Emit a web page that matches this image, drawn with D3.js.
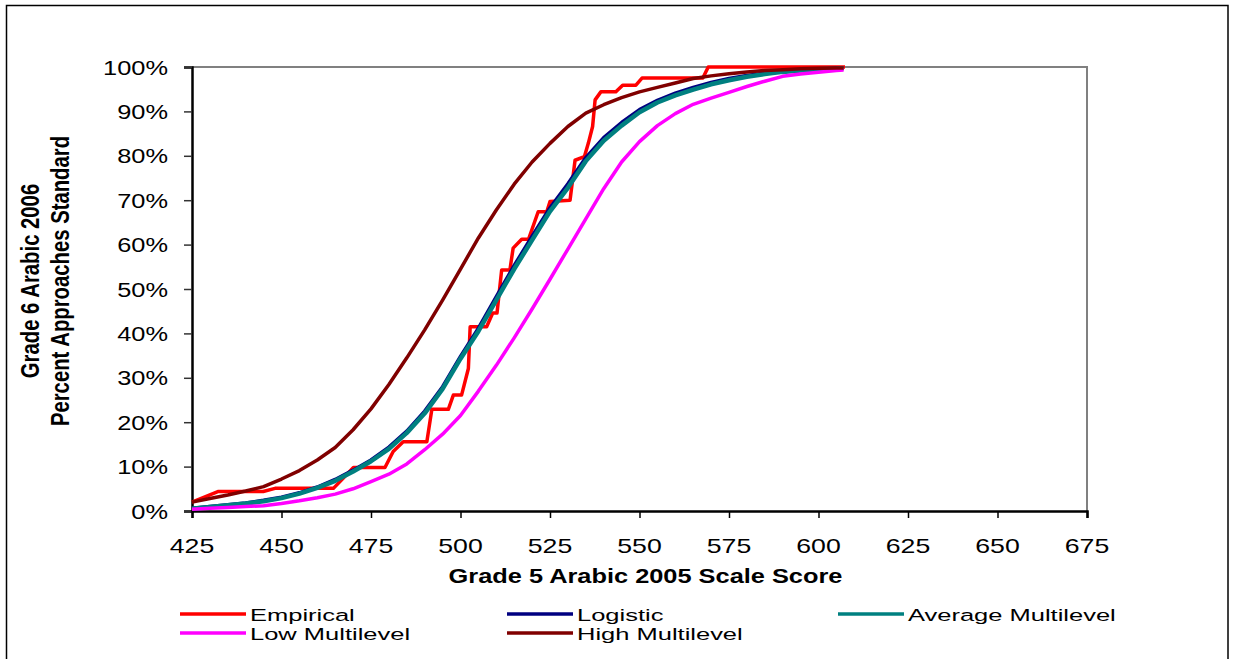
<!DOCTYPE html>
<html><head><meta charset="utf-8">
<script src="https://cdn.jsdelivr.net/npm/d3@7/dist/d3.min.js"></script>
<style>body{margin:0;background:#fff}svg{display:block}text{font-family:Arial,"Liberation Sans",sans-serif;fill:#000}</style>
</head><body><svg id="c" width="1233" height="659"></svg>
<script>
const xTicks = [425,450,475,500,525,550,575,600,625,650,675];
const yTicks = [0,10,20,30,40,50,60,70,80,90,100];
const seriesNames = ["Empirical","Logistic","Average Multilevel","Low Multilevel","High Multilevel"];
const seriesColors = ["#FF0000","#000080","#008080","#FF00FF","#800000"];

const empiricalX = [425,432.4,444.9,448.2,464.5,470.1,478.9,481.2,484,490.6,492,496.6,498,500.3,502.2,502.7,505,507.3,509,510.2,511.5,513.8,514.7,517.1,519,521.7,524.1,525,530.6,532,534.6,535.7,536.9,537.6,539.2,543.4,545.3,549,550.7,567.7,569.2,607.4];
const empiricalY = [2.0,4.4,4.4,5.1,5.1,9.8,9.8,13.4,15.6,15.6,22.9,22.9,26.1,26.1,32.1,41.5,41.5,41.5,44.6,44.6,54.3,54.3,59.2,61.2,61.2,67.4,67.4,69.7,70.0,79.0,79.8,82.8,86.6,92.6,94.4,94.4,95.9,95.9,97.5,97.5,100,100];

const scores = [425,430,435,440,445,450,455,460,465,470,475,480,485,490,495,500,505,510,515,520,525,530,535,540,545,550,555,560,565,570,575,580,585,590,595,600,605,607];
const logistic = [0.6,1.0,1.4,1.8,2.4,3.1,4.1,5.4,7.1,9.2,11.5,14.4,18.0,22.5,28.0,34.8,41.2,48.3,55.3,61.9,68.3,73.7,79.6,84.1,87.5,90.4,92.5,94.1,95.4,96.5,97.4,98.1,98.6,99.0,99.3,99.5,99.7,99.7];
const averageML = [0.5,0.9,1.3,1.7,2.2,2.9,3.9,5.2,6.8,8.9,11.2,14.0,17.6,22.0,27.5,34.3,40.5,47.5,54.5,61.0,67.5,72.8,78.8,83.4,86.8,89.8,92.0,93.6,94.9,96.1,97.0,97.8,98.4,98.9,99.2,99.5,99.6,99.7];
const lowML = [0.4,0.6,0.8,1.0,1.2,1.7,2.3,3.0,3.8,5.0,6.6,8.3,10.6,13.8,17.3,21.5,27.0,32.8,39.0,45.5,52.2,59.0,65.8,72.6,78.6,83.2,86.8,89.5,91.6,93.0,94.3,95.6,96.8,97.9,98.4,98.8,99.2,99.3];
const highML = [2.0,2.8,3.6,4.5,5.5,7.2,9.1,11.5,14.3,18.3,23.0,28.5,34.5,40.8,47.5,54.5,61.5,67.8,73.6,78.6,82.8,86.6,89.6,91.5,93.1,94.4,95.4,96.4,97.4,98.0,98.5,98.9,99.2,99.4,99.6,99.7,99.8,99.8];

const svg = d3.select("#c");
const SX = 1.25, FS = 20.3;
const L = 192, R = 1087, T = 67, B = 511;
const x = d3.scaleLinear().domain([425,675]).range([L,R]);
const y = d3.scaleLinear().domain([0,100]).range([B,T]);

// outer border
svg.append("rect").attr("x",6.5).attr("y",5.5).attr("width",1221.5).attr("height",662)
  .attr("fill","none").attr("stroke","#000").attr("stroke-width",1.5);

// plot frame (top/right gray)
svg.append("path").attr("d",`M${L},${T}H${R}V${B}`).attr("fill","none").attr("stroke","#808080").attr("stroke-width",2);

function txt(g, s, tx, ty, anchor, bold, rot, fs, sx){
  return g.append("text").attr("transform",`translate(${tx},${ty}) scale(${sx||SX},1)` + (rot?` rotate(${rot})`:""))
    .attr("text-anchor",anchor).attr("font-size",fs||FS).attr("font-weight",bold?"bold":"normal").text(s);
}

// y axis
const ya = svg.append("g").attr("transform",`translate(${L},0)`)
  .call(d3.axisLeft(y).tickValues(yTicks).tickSize(8).tickFormat(""));
ya.select(".domain").attr("stroke","#000").attr("stroke-width",2.5);
ya.selectAll(".tick line").attr("stroke","#333").attr("stroke-width",1.5);
yTicks.forEach(v => txt(svg, v + "%", 168, y(v) + 7.5, "end", false));

// x axis
const xa = svg.append("g").attr("transform",`translate(0,${B})`)
  .call(d3.axisBottom(x).tickValues(xTicks).tickSize(7).tickFormat(""));
xa.select(".domain").attr("stroke","#000").attr("stroke-width",2.5);
xa.selectAll(".tick line").attr("stroke","#000").attr("stroke-width",1.5);
xTicks.forEach(v => txt(svg, String(v), x(v), 552.5, "middle", false, 0, 21, 1.27));

// axis titles
txt(svg, "Grade 5 Arabic 2005 Scale Score", 645.5, 583, "middle", true);
txt(svg, "Grade 6 Arabic 2006", 39, 281, "middle", true, -90);
txt(svg, "Percent Approaches Standard", 69, 281, "middle", true, -90);

// curves
const line = d3.line().x(d => x(d[0])).y(d => y(d[1]));
const smooth = [logistic, averageML, lowML, highML];
const widths = [3.5, 3.5, 4.5, 3.5, 3.5];
svg.append("path").datum(empiricalX.map((v,i)=>[v,empiricalY[i]]))
  .attr("d",line).attr("fill","none").attr("stroke",seriesColors[0]).attr("stroke-width",widths[0]).attr("stroke-linejoin","round");
smooth.forEach((arr,k) => {
  svg.append("path").datum(scores.map((s,i)=>[s,arr[i]]))
    .attr("d",line).attr("fill","none").attr("stroke",seriesColors[k+1]).attr("stroke-width",widths[k+1]).attr("stroke-linejoin","round");
});

// legend
const legPos = [[180,614],[507,614],[838,614],[180,633],[507,633]];
seriesNames.forEach((n,i) => {
  const [lx,ly] = legPos[i];
  svg.append("line").attr("x1",lx).attr("x2",lx+66).attr("y1",ly).attr("y2",ly)
    .attr("stroke",seriesColors[i]).attr("stroke-width",3.5);
  txt(svg, n, lx+70, ly+6.5, "start", false, 0, 17, 1.5);
});
</script></body></html>
